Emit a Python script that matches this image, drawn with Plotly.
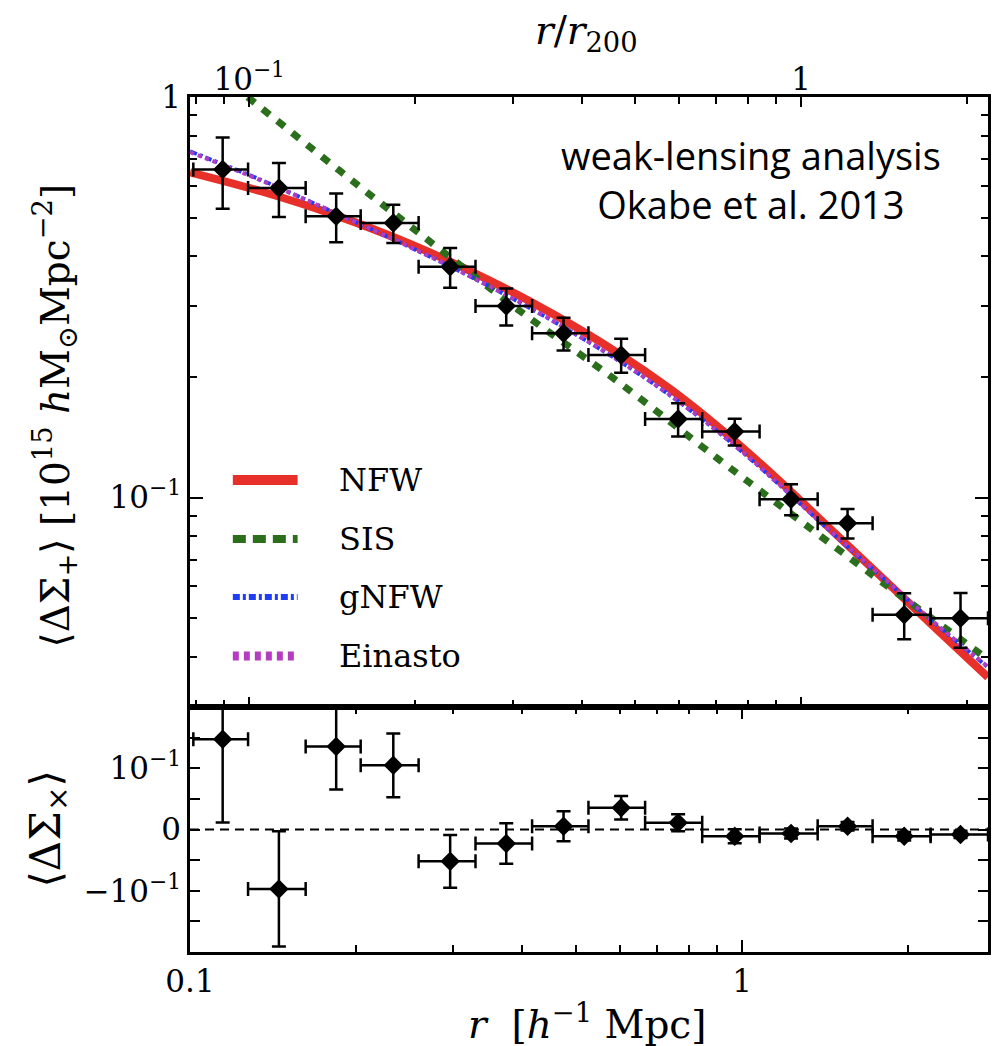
import math
import plotly.graph_objects as go

# ---------------- data ----------------
r_bin = [0.1146, 0.1449, 0.184, 0.2335, 0.296, 0.374, 0.475, 0.604, 0.766, 0.970, 1.227, 1.553, 1.967, 2.488]
r_lo = [0.1014, 0.1274, 0.162, 0.2038, 0.2595, 0.329, 0.4166, 0.527, 0.6675, 0.847, 1.076, 1.371, 1.724, 2.196]
r_hi = [0.1274, 0.162, 0.2038, 0.2595, 0.329, 0.4166, 0.527, 0.6675, 0.847, 1.076, 1.371, 1.724, 2.196, 2.79]

dsig_plus = [0.659, 0.593, 0.504, 0.485, 0.377, 0.3007, 0.257, 0.227, 0.157, 0.1461, 0.0991, 0.0863, 0.051, 0.050]
dsig_plus_err = [0.133, 0.091, 0.070, 0.053, 0.043, 0.032, 0.024, 0.022, 0.015, 0.0113, 0.0088, 0.0073, 0.0067, 0.0078]

dsig_cross = [0.1473, -0.097, 0.1354, 0.1047, -0.0519, -0.0229, 0.0054, 0.0355, 0.011, -0.011, -0.0065, 0.0054, -0.011, -0.008]
dsig_cross_err = [0.136, 0.094, 0.070, 0.052, 0.043, 0.033, 0.0245, 0.019, 0.014, 0.0115, 0.008, 0.007, 0.007, 0.006]

nfw_r = [0.1, 0.1349, 0.1816, 0.2512, 0.3478, 0.4571, 0.597, 0.7413, 0.9052, 1.0471, 1.2106, 1.4454, 1.760, 2.2131, 2.79]
nfw_y = [0.6486, 0.5808, 0.5093, 0.4289, 0.3491, 0.2860, 0.2292, 0.1866, 0.1502, 0.1263, 0.1052, 0.0835, 0.0647, 0.0480, 0.0356]

sis_r = [0.1272, 0.1866, 0.2602, 0.394, 0.597, 0.905, 1.1614, 1.760, 2.544, 2.79]
sis_y = [1.0, 0.655, 0.457, 0.2938, 0.1943, 0.1249, 0.0964, 0.0627, 0.0433, 0.0394]

gnfw_r = [0.1, 0.1349, 0.1816, 0.2512, 0.3478, 0.4571, 0.597, 0.7413, 0.9052, 1.0471, 1.2106, 1.4454, 1.760, 2.2131, 2.79]
gnfw_y = [0.7318, 0.6197, 0.5164, 0.4210, 0.3374, 0.2745, 0.2199, 0.1798, 0.1458, 0.1232, 0.1030, 0.0824, 0.0647, 0.0491, 0.0377]

ein_r = [0.1, 0.1349, 0.1816, 0.2512, 0.3478, 0.4571, 0.597, 0.7413, 0.9052, 1.0471, 1.2106, 1.4454, 1.760, 2.2131, 2.79]
ein_y = [0.7280, 0.6180, 0.5160, 0.4212, 0.3378, 0.2750, 0.2203, 0.1801, 0.1460, 0.1234, 0.1032, 0.0826, 0.0649, 0.0492, 0.0378]

R200 = 1.28  # h^-1 Mpc, where r/r200 = 1 on the top axis

x_major = [0.1, 1]
x_minor = [0.2, 0.3, 0.4, 0.5, 0.6, 0.7, 0.8, 0.9, 2]
top_major = [0.1, 1]
top_minor = [0.08, 0.09, 0.2, 0.3, 0.4, 0.5, 0.6, 0.7, 0.8, 0.9, 2]
y_major = [0.1, 1]
y_minor = [0.03, 0.04, 0.05, 0.06, 0.07, 0.08, 0.09, 0.2, 0.3, 0.4, 0.5, 0.6, 0.7, 0.8, 0.9]
y2_major = [-0.1, 0, 0.1]
y2_minor = [-0.15, -0.05, 0.05, 0.15]

# ---------------- styling ----------------
W, H = 997, 1046
ML, MR, MT, MB = 190, 6, 97, 94
PW, PH = W - ML - MR, H - MT - MB
SPLIT = (952 - 707) / PH
SERIF = "DejaVu Serif"
RED, GREEN, BLUE, MAG = "#e8302a", "#2b6e1c", "#1f3df5", "#b43cc0"


def px(xpix):
    return (xpix - ML) / PW


def py(ypix):
    return (H - MB - ypix) / PH


xr = [math.log10(0.1), math.log10(2.79)]
xr_top = [math.log10(0.1 / R200), math.log10(2.79 / R200)]

fig = go.Figure()

ex_plus = [h - c for h, c in zip(r_hi, r_bin)]
ex_minus = [c - l for c, l in zip(r_bin, r_lo)]

# model curves (upper panel)
fig.add_trace(go.Scatter(x=nfw_r, y=nfw_y, mode="lines", line=dict(color=RED, width=8, shape="spline"),
                         xaxis="x2", yaxis="y", showlegend=False, name="NFW"))
fig.add_trace(go.Scatter(x=sis_r, y=sis_y, mode="lines", line=dict(color=GREEN, width=7, dash="9px,10px", shape="spline"),
                         xaxis="x2", yaxis="y", showlegend=False, name="SIS"))
fig.add_trace(go.Scatter(x=gnfw_r, y=gnfw_y, mode="lines",
                         line=dict(color=BLUE, width=4, dash="7px,3px,3px,3px", shape="spline"),
                         xaxis="x2", yaxis="y", showlegend=False, name="gNFW"))
fig.add_trace(go.Scatter(x=ein_r, y=ein_y, mode="lines", line=dict(color=MAG, width=4, dash="4px,4px", shape="spline"),
                         xaxis="x2", yaxis="y", showlegend=False, name="Einasto"))

# data points
errstyle = dict(color="black", thickness=2.5, width=7)
fig.add_trace(go.Scatter(x=r_bin, y=dsig_plus, mode="markers",
                         marker=dict(symbol="diamond", size=15, color="black"),
                         error_y=dict(type="data", array=dsig_plus_err, **errstyle),
                         error_x=dict(type="data", symmetric=False, array=ex_plus, arrayminus=ex_minus, **errstyle),
                         xaxis="x2", yaxis="y", showlegend=False))
fig.add_trace(go.Scatter(x=r_bin, y=dsig_cross, mode="markers",
                         marker=dict(symbol="diamond", size=15, color="black"),
                         error_y=dict(type="data", array=dsig_cross_err, **errstyle),
                         error_x=dict(type="data", symmetric=False, array=ex_plus, arrayminus=ex_minus, **errstyle),
                         xaxis="x", yaxis="y2", showlegend=False))

# empty traces to register the r/r200 axes
fig.add_trace(go.Scatter(x=[], y=[], xaxis="x3", yaxis="y", showlegend=False))
fig.add_trace(go.Scatter(x=[], y=[], xaxis="x4", yaxis="y", showlegend=False))

tickfont = dict(family=SERIF, size=31, color="black")
lw = 2.5

fig.update_layout(
    width=W, height=H,
    margin=dict(l=ML, r=MR, t=MT, b=MB),
    paper_bgcolor="white", plot_bgcolor="white",
    showlegend=False,
    xaxis=dict(domain=[0, 1], anchor="y2", type="log", range=xr,
               tickmode="array", tickvals=x_major, ticktext=["0.1", "1"],
               ticks="inside", ticklen=12, tickwidth=2, tickcolor="black",
               minor=dict(tickmode="array", tickvals=x_minor, ticks="inside", ticklen=7, tickwidth=2,
                          tickcolor="black", showgrid=False),
               showline=True, linewidth=lw, linecolor="black", mirror="ticks",
               showgrid=False, zeroline=False, tickfont=tickfont),
    xaxis2=dict(domain=[0, 1], anchor="y", type="log", range=xr, matches="x",
                showticklabels=False, ticks="",
                showline=True, linewidth=lw, linecolor="black", mirror=True,
                showgrid=False, zeroline=False),
    xaxis3=dict(overlaying="x2", anchor="y", side="top", type="log", range=xr_top,
                tickmode="array", tickvals=top_major, ticktext=["10<sup>\u22121</sup>", "1"],
                ticks="inside", ticklen=10, tickwidth=2, tickcolor="black",
                minor=dict(tickmode="array", tickvals=top_minor, ticks="inside", ticklen=7, tickwidth=2,
                           tickcolor="black", showgrid=False),
                showline=False, showgrid=False, zeroline=False, tickfont=tickfont),
    xaxis4=dict(overlaying="x2", anchor="y", side="bottom", type="log", range=xr_top,
                tickmode="array", tickvals=top_major, showticklabels=False,
                ticks="inside", ticklen=10, tickwidth=2, tickcolor="black",
                minor=dict(tickmode="array", tickvals=top_minor, ticks="inside", ticklen=7, tickwidth=2,
                           tickcolor="black", showgrid=False),
                showline=False, showgrid=False, zeroline=False),
    yaxis=dict(domain=[SPLIT, 1], anchor="x2", type="log", range=[math.log10(0.03), 0],
               tickmode="array", tickvals=y_major, ticktext=["10<sup>\u22121</sup>", "1"],
               ticks="inside", ticklen=13, tickwidth=2, tickcolor="black",
               minor=dict(tickmode="array", tickvals=y_minor, ticks="inside", ticklen=7, tickwidth=2,
                          tickcolor="black", showgrid=False),
               showline=True, linewidth=lw, linecolor="black", mirror="ticks",
               showgrid=False, zeroline=False, tickfont=tickfont),
    yaxis2=dict(domain=[0, SPLIT], anchor="x", range=[-0.2, 0.2],
                tickmode="array", tickvals=y2_major,
                ticktext=["\u221210<sup>\u22121</sup>", "0", "10<sup>\u22121</sup>"],
                ticks="inside", ticklen=10, tickwidth=2, tickcolor="black",
                minor=dict(tickmode="array", tickvals=y2_minor, ticks="inside", ticklen=10, tickwidth=2,
                           tickcolor="black", showgrid=False),
                showline=True, linewidth=lw, linecolor="black", mirror="ticks",
                showgrid=False, zeroline=False, tickfont=tickfont),
)

# zero line in the lower panel
fig.add_shape(type="line", xref="x domain", x0=0, x1=1, yref="y2", y0=0, y1=0,
              line=dict(color="black", width=2, dash="9px,6px"), layer="below")

# legend (drawn by hand to get long sample lines)
legend_items = [
    ("NFW", RED, 10, "solid", 480),
    ("SIS", GREEN, 8, "13px,7px", 539),
    ("gNFW", BLUE, 6, "7px,3px,3px,3px", 597),
    ("Einasto", MAG, 9, "6px,5px", 656),
]
for name, col, wdt, dash, ypix in legend_items:
    fig.add_shape(type="line", xref="paper", yref="paper", x0=px(233), x1=px(298), y0=py(ypix), y1=py(ypix),
                  line=dict(color=col, width=wdt, dash=dash))
    fig.add_annotation(xref="paper", yref="paper", x=px(338), y=py(ypix), text=name, showarrow=False,
                       xanchor="left", yanchor="middle", font=dict(family=SERIF, size=32, color="black"))

titlefont = dict(family=SERIF, size=39, color="black")
fig.add_annotation(xref="paper", yref="paper", x=px(55), y=py(416), textangle=-90, showarrow=False,
                   text="\u27e8\u0394\u03a3<sub>+</sub>\u27e9 [10<sup>15</sup> <i>h</i>M<sub>\u2299</sub>Mpc<sup>\u22122</sup>]",
                   xanchor="center", yanchor="middle", font=titlefont)
fig.add_annotation(xref="paper", yref="paper", x=px(47), y=py(829), textangle=-90, showarrow=False,
                   text="\u27e8\u0394\u03a3<sub>\u00d7</sub>\u27e9",
                   xanchor="center", yanchor="middle", font=dict(family=SERIF, size=42, color="black"))
fig.add_annotation(xref="paper", yref="paper", x=px(588), y=py(1022), showarrow=False,
                   text="<i>r</i>  [<i>h</i><sup>\u22121</sup> Mpc]",
                   xanchor="center", yanchor="middle", font=titlefont)
fig.add_annotation(xref="paper", yref="paper", x=px(588), y=py(33), showarrow=False,
                   text="<i>r</i>/<i>r</i><sub>200</sub>",
                   xanchor="center", yanchor="middle", font=titlefont)
fig.add_annotation(xref="paper", yref="paper", x=px(753), y=py(179), showarrow=False,
                   text="weak-lensing analysis<br>Okabe et al. 2013", align="center",
                   xanchor="center", yanchor="middle",
                   font=dict(family="Open Sans", size=38, color="black"))

fig.write_html("out.html")
